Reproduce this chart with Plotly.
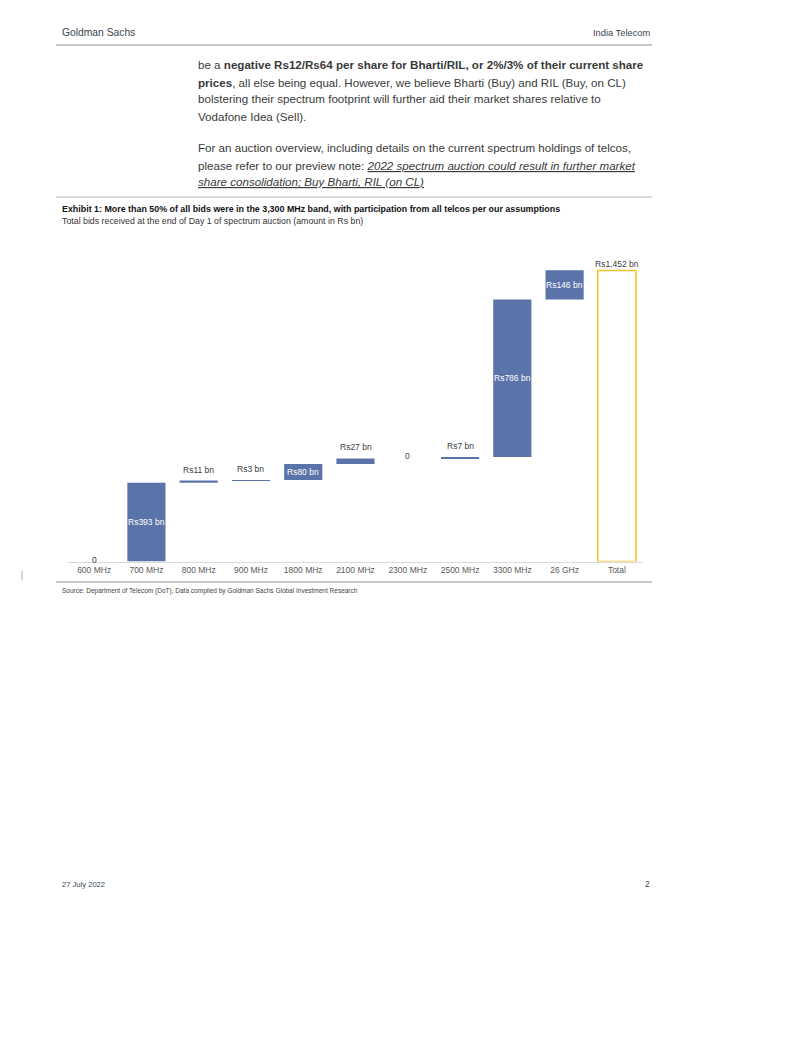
import plotly.graph_objects as go

# chart data (Rs bn)
bands = ["600 MHz", "700 MHz", "800 MHz", "900 MHz", "1800 MHz", "2100 MHz",
         "2300 MHz", "2500 MHz", "3300 MHz", "26 GHz"]
bids = [0, 393, 11, 3, 80, 27, 0, 7, 786, 146]
bid_labels = ["0", "Rs393 bn", "Rs11 bn", "Rs3 bn", "Rs80 bn", "Rs27 bn",
              "0", "Rs7 bn", "Rs786 bn", "Rs146 bn"]
label_inside = [False, True, False, False, True, False, False, False, True, True]
total_name = "Total"
total_value = 1452
total_label = "Rs1,452 bn"

# page text
header_left = "Goldman Sachs"
header_right = "India Telecom"
body_lines = [
    "be a <b>negative Rs12/Rs64 per share for Bharti/RIL, or 2%/3% of their current share</b>",
    "<b>prices</b>, all else being equal. However, we believe Bharti (Buy) and RIL (Buy, on CL)",
    "bolstering their spectrum footprint will further aid their market shares relative to",
    "Vodafone Idea (Sell).",
    "For an auction overview, including details on the current spectrum holdings of telcos,",
    "please refer to our preview note: <i><u>2022 spectrum auction could result in further market</u></i>",
    "<i><u>share consolidation; Buy Bharti, RIL (on CL)</u></i>",
]
body_y = [65, 82, 99, 116, 148, 165, 182]
exhibit_title = "Exhibit 1: More than 50% of all bids were in the 3,300 MHz band, with participation from all telcos per our assumptions"
exhibit_sub = "Total bids received at the end of Day 1 of spectrum auction (amount in Rs bn)"
source_text = "Source: Department of Telecom (DoT), Data compiled by Goldman Sachs Global Investment Research"
footer_left = "27 July 2022"
footer_right = "2"

# the page body adds an 8px margin, so the figure is sized to fit inside it
OFF = 8
W, H = 802 - 2 * OFF, 1037 - 2 * OFF
BLUE = "#5A73A9"
GOLD = "#FAC22E"
SANS = "Liberation Sans, Arial"


def px_x(x):
    return (x - OFF) / W


def px_y(y):
    return 1 - (y - OFF) / H


# waterfall bases
bases = []
run = 0
for v in bids:
    bases.append(run)
    run += v

fig = go.Figure()
fig.add_trace(go.Bar(
    x=bands, y=bids, base=bases,
    marker=dict(color=BLUE, line=dict(width=0)),
    hoverinfo="skip", showlegend=False,
))
fig.add_trace(go.Bar(
    x=[total_name], y=[total_value],
    marker=dict(color="white", line=dict(color=GOLD, width=1.6)),
    hoverinfo="skip", showlegend=False,
))

# value labels
for cat, b, v, lab, inside in zip(bands, bases, bids, bid_labels, label_inside):
    if inside:
        fig.add_annotation(x=cat, y=b + v / 2, text=lab, showarrow=False,
                           font=dict(family=SANS, size=8.5, color="white"))
    elif v == 0:
        fig.add_annotation(x=cat, y=b, text=lab, showarrow=False, yshift=2,
                           font=dict(family=SANS, size=8.5, color="#404040"))
    else:
        fig.add_annotation(x=cat, y=b + v, text=lab, showarrow=False,
                           yanchor="bottom", yshift=4,
                           font=dict(family=SANS, size=8.5, color="#404040"))
fig.add_annotation(x=total_name, y=total_value, text=total_label, showarrow=False,
                   yanchor="bottom", yshift=0,
                   font=dict(family=SANS, size=8.5, color="#404040"))


def txt(x, y, s, size, color, xanchor="left"):
    fig.add_annotation(xref="paper", yref="paper", x=px_x(x), y=px_y(y),
                       text=s, showarrow=False, xanchor=xanchor, yanchor="middle",
                       font=dict(family=SANS, size=size, color=color))


txt(60, 32, header_left, 10.3, "#3A4552")
txt(652, 33, header_right, 9.3, "#3A4552", xanchor="right")
for s, y in zip(body_lines, body_y):
    txt(196, y, s, 11.6, "#3A3A3A")
txt(60, 209, "<b>" + exhibit_title + "</b>", 8.9, "#111111")
txt(60, 221, exhibit_sub, 8.8, "#333333")
txt(60, 591, source_text, 6.5, "#444444")
txt(60, 884, footer_left, 7.6, "#3A4552")
txt(652, 884, footer_right, 8.5, "#3A4552", xanchor="right")

# rules
for y0, w in [(45, 1.5), (197, 1.2), (582, 1.5)]:
    fig.add_shape(type="line", xref="paper", yref="paper",
                  x0=px_x(56), x1=px_x(652), y0=px_y(y0), y1=px_y(y0),
                  line=dict(color="#B4B4B4", width=w))
fig.add_shape(type="line", xref="paper", yref="paper",
              x0=px_x(22), x1=px_x(22), y0=px_y(571), y1=px_y(580),
              line=dict(color="#AAAAAA", width=1))

fig.update_layout(
    width=W, height=H,
    margin=dict(l=0, r=0, t=0, b=0),
    paper_bgcolor="white", plot_bgcolor="white",
    bargap=0.27, barmode="overlay",
    xaxis=dict(domain=[px_x(68), px_x(643)], type="category",
               categoryorder="array", categoryarray=bands + [total_name],
               showline=True, linecolor="#D9D9D9", linewidth=1,
               showgrid=False, ticks="", ticklen=0,
               tickfont=dict(family=SANS, size=8.5, color="#595959")),
    yaxis=dict(domain=[px_y(561.5), px_y(260.9)], range=[0, 1500],
               visible=False, showgrid=False, zeroline=False),
)

fig.write_html("out.html")
